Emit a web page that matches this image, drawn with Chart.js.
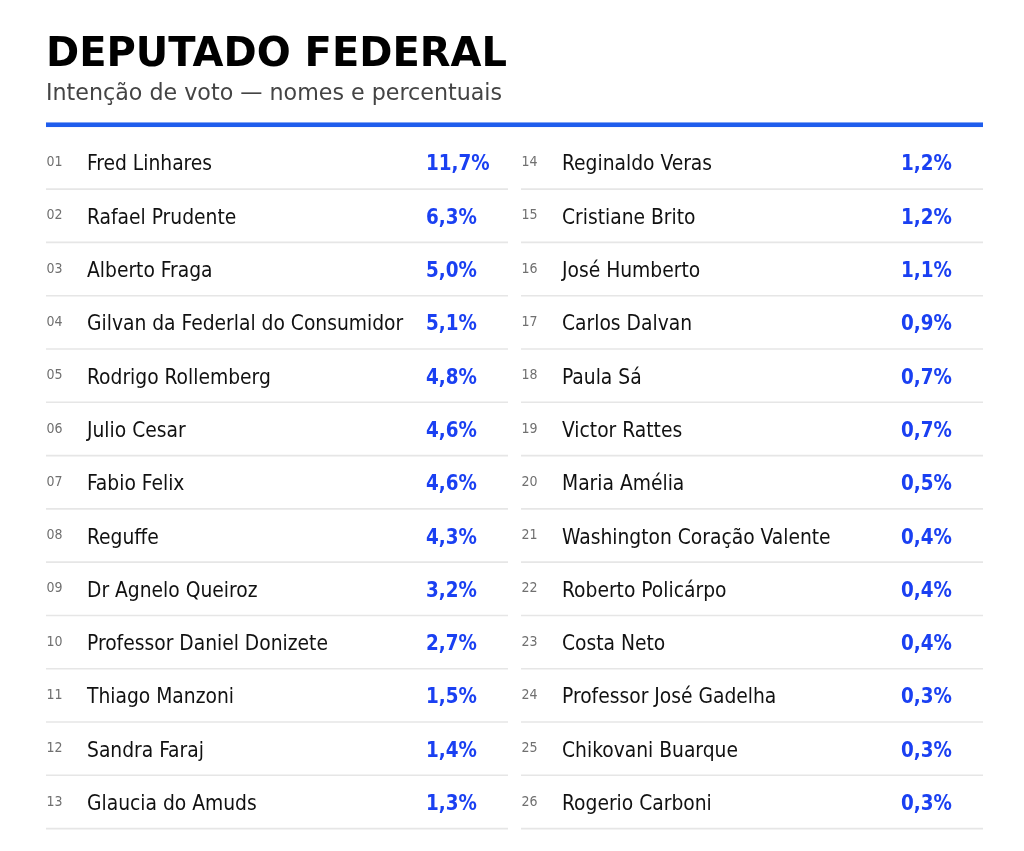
<!DOCTYPE html>
<html>
<head>
<meta charset="utf-8">
<script src="https://cdn.jsdelivr.net/npm/chart.js@4.4.1/dist/chart.umd.min.js"></script>
<style>
  html, body { margin: 0; padding: 0; background: #ffffff; }
  #quadro { width: 1024px; height: 851px; }
</style>
</head>
<body>
<div id="quadro"><canvas id="grafico"></canvas></div>
<script>
const titulo = 'DEPUTADO FEDERAL';
const subtitulo = 'Intenção de voto — nomes e percentuais';

const posicoes = ['01', '02', '03', '04', '05', '06', '07', '08', '09', '10', '11', '12', '13',
    '14', '15', '16', '17', '18', '19', '20', '21', '22', '23', '24', '25', '26'];

const nomes = [
    'Fred Linhares', 'Rafael Prudente', 'Alberto Fraga', 'Gilvan da Federlal do Consumidor',
    'Rodrigo Rollemberg', 'Julio Cesar', 'Fabio Felix', 'Reguffe', 'Dr Agnelo Queiroz',
    'Professor Daniel Donizete', 'Thiago Manzoni', 'Sandra Faraj', 'Glaucia do Amuds',
    'Reginaldo Veras', 'Cristiane Brito', 'José Humberto', 'Carlos Dalvan', 'Paula Sá',
    'Victor Rattes', 'Maria Amélia', 'Washington Coração Valente', 'Roberto Policárpo',
    'Costa Neto', 'Professor José Gadelha', 'Chikovani Buarque', 'Rogerio Carboni'
];

const percentuais = [11.7, 6.3, 5.0, 5.1, 4.8, 4.6, 4.6, 4.3, 3.2, 2.7, 1.5, 1.4, 1.3,
    1.2, 1.2, 1.1, 0.9, 0.7, 0.7, 0.5, 0.4, 0.4, 0.4, 0.3, 0.3, 0.3];

const linhasPorColuna = 13;

// cada nome vira um ponto: x = coluna, y = linha
const pontos = nomes.map((nome, i) => ({
    x: Math.floor(i / linhasPorColuna),
    y: i % linhasPorColuna
}));

const formatar = v => v.toFixed(1).replace('.', ',') + '%';

const tabelaPlugin = {
    id: 'tabela',
    afterDatasetsDraw(chart) {
        const ctx = chart.ctx;
        const area = chart.chartArea;
        const escalaX = chart.scales.x;
        const escalaY = chart.scales.y;
        const meta = chart.getDatasetMeta(0);
        const vao = 6.5;

        ctx.save();

        // regua azul abaixo do subtitulo
        ctx.fillStyle = '#1f5ded';
        ctx.fillRect(area.left, area.top - 13.4, area.right - area.left, 4.6);

        meta.data.forEach((ponto, i) => {
            const col = pontos[i].x;
            const x0 = col === 0 ? ponto.x : ponto.x + vao;
            const x1 = escalaX.getPixelForValue(col + 1) - (col === 0 ? vao : 0);
            const y = ponto.y;
            const yLinha = escalaY.getPixelForValue(pontos[i].y + 0.5);

            ctx.strokeStyle = '#e6e6e6';
            ctx.lineWidth = 1.6;
            ctx.beginPath();
            ctx.moveTo(x0, yLinha);
            ctx.lineTo(x1, yLinha);
            ctx.stroke();

            ctx.textBaseline = 'alphabetic';
            ctx.textAlign = 'left';

            ctx.fillStyle = '#707070';
            ctx.font = '14px "DejaVu Sans Condensed", "DejaVu Sans"';
            ctx.fillText(posicoes[i], x0 + 0.5, y + 3.6);

            ctx.fillStyle = '#111111';
            ctx.font = '20.8px "DejaVu Sans Condensed", "DejaVu Sans"';
            ctx.fillText(nomes[i], x0 + 41, y + 8);

            ctx.fillStyle = '#1a40f2';
            ctx.font = 'bold 20.4px "DejaVu Sans Condensed", "DejaVu Sans"';
            ctx.fillText(formatar(percentuais[i]), x0 + 380, y + 8);
        });

        ctx.restore();
    }
};

new Chart(document.getElementById('grafico'), {
    type: 'scatter',
    data: {
        datasets: [{
            label: 'Intenção de voto',
            data: pontos,
            pointRadius: 0,
            pointHoverRadius: 0
        }]
    },
    options: {
        responsive: true,
        maintainAspectRatio: false,
        animation: false,
        events: [],
        layout: {
            padding: { top: 0, left: 46, right: 41, bottom: 22.4 }
        },
        scales: {
            x: { type: 'linear', min: 0, max: 2, display: false },
            y: { type: 'linear', min: -0.5, max: linhasPorColuna - 0.5, reverse: true, display: false }
        },
        plugins: {
            legend: { display: false },
            tooltip: { enabled: false },
            title: {
                display: true,
                text: titulo,
                align: 'start',
                color: '#000000',
                font: { family: '"DejaVu Sans"', size: 40, weight: 'bold', lineHeight: 1.2 },
                padding: { top: 32, bottom: 0 }
            },
            subtitle: {
                display: true,
                text: subtitulo,
                align: 'start',
                color: '#444444',
                font: { family: '"DejaVu Sans"', size: 22.2, weight: 'normal', lineHeight: 1.2 },
                padding: { top: 1, bottom: 28.2 }
            }
        }
    },
    plugins: [tabelaPlugin]
});
</script>
</body>
</html>
